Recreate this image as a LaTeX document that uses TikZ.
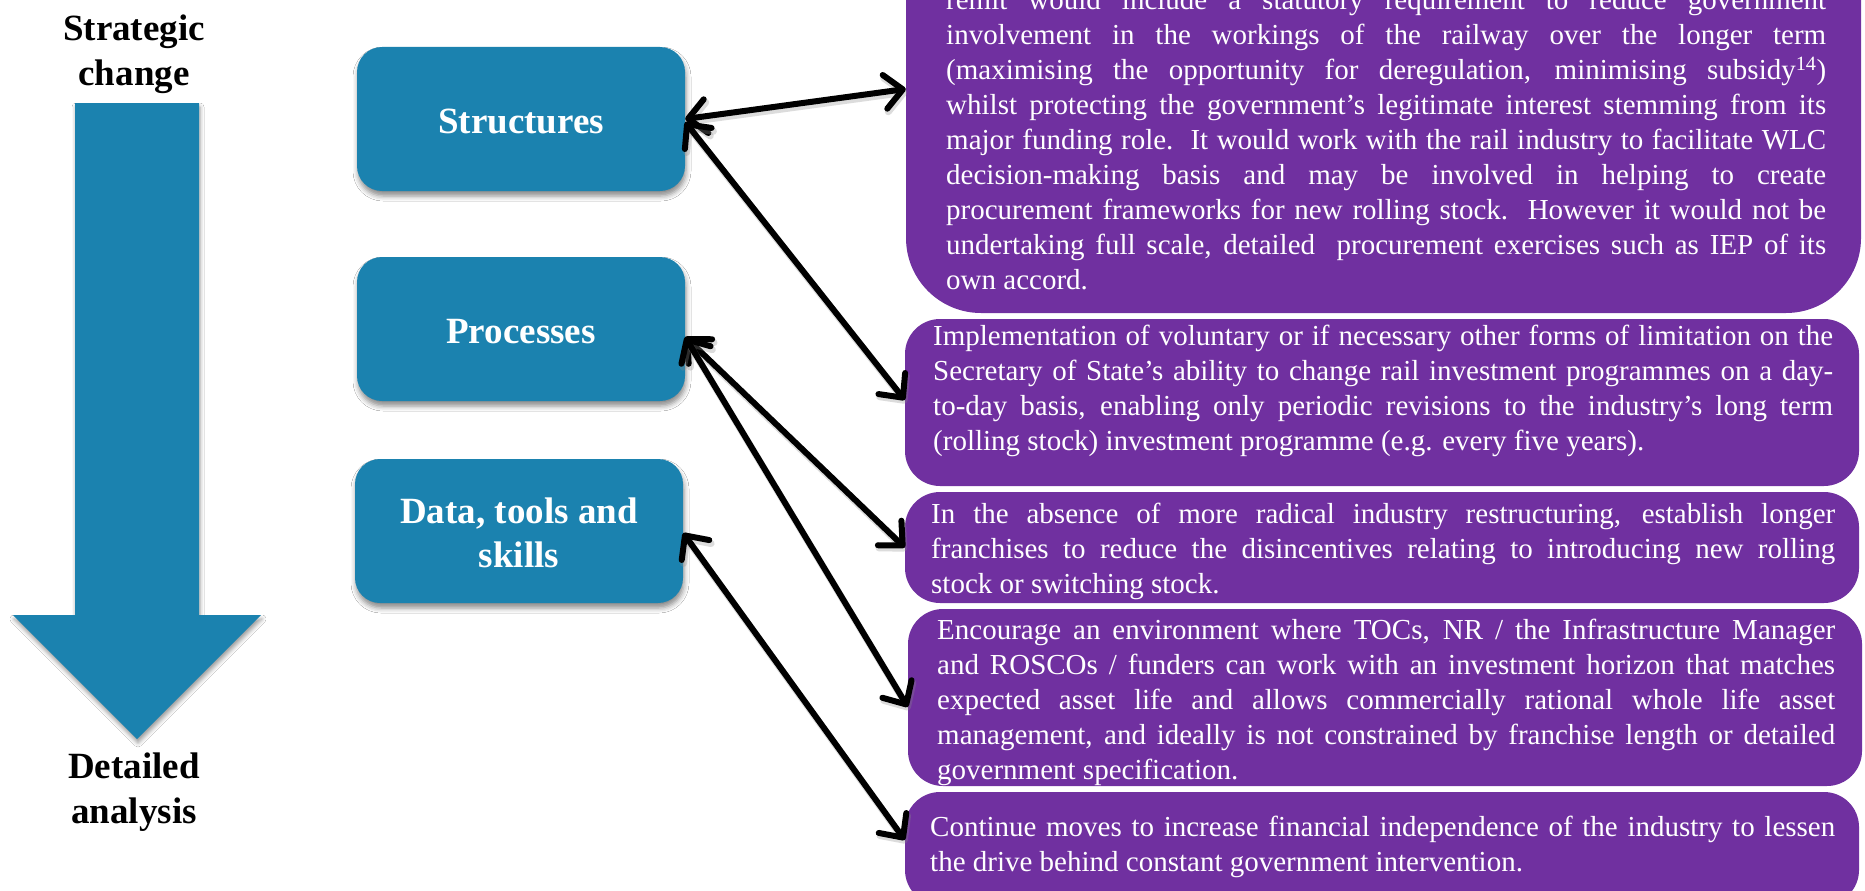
\documentclass[tikz,border=0pt]{standalone}
\usepackage{fontspec}
\setmainfont{Liberation Serif}
\usetikzlibrary{arrows.meta,shadows.blur}
\definecolor{boxblue}{RGB}{27,130,175}
\definecolor{boxpurple}{RGB}{112,48,160}
\newlength\bw
\newcommand\jline[1]{\makebox[\bw][s]{#1}}
\newcommand\lline[1]{\makebox[\bw][l]{#1}}
\newcommand\up{\rule{0pt}{30pt}}
\begin{document}
\begin{tikzpicture}[x=1pt,y=-1pt,
  bluebox/.style={fill=boxblue, rounded corners=25pt, minimum width=328pt, minimum height=144pt,
    text=white, font=\fontsize{37}{44}\selectfont\bfseries, align=center, inner sep=0pt,
    blur shadow={shadow xshift=1pt, shadow yshift=-5pt, shadow blur radius=5pt, shadow opacity=45}},
  pbox/.style={fill=boxpurple, rounded corners=#1, inner sep=0pt},
  ptext/.style={anchor=north west, inner sep=0pt, text=white, font=\fontsize{29}{35}\selectfont,
    align=left, execute at begin node={\global\bw=#1\relax}},
  lab/.style={font=\fontsize{37}{45}\selectfont\bfseries, align=center, anchor=north, inner sep=0pt},
  conn/.style={line width=6pt, line cap=round,
    arrows={Straight Barb[length=18pt,width=34pt,round]-Straight Barb[length=18pt,width=34pt,round]},
    preaction={draw=black!45, opacity=0.3, line width=7pt, transform canvas={xshift=1.5pt,yshift=-3pt}}}]
\useasboundingbox (0,0) rectangle (1865,891);
\fill[white] (0,0) rectangle (1865,891);
\clip (0,0) rectangle (1865,891);

% big arrow
\fill[boxblue, blur shadow={shadow xshift=1pt, shadow yshift=-4pt, shadow blur radius=4pt, shadow opacity=40}]
  (75,103) -- (199,103) -- (199,615) -- (261,615) -- (137,739) -- (13,615) -- (75,615) -- cycle;
\node[lab] (top) at (134,8.5) {\strut Strategic\\change};
\node[lab] (bot) at (134,746.5) {\strut Detailed\\analysis};

% blue boxes
\node[bluebox] (s) at (521,119) {\up Structures};
\node[bluebox] (pr) at (521,329) {\up Processes};
\node[bluebox] (d) at (519,531) {\up Data, tools and\\skills};

% purple boxes
\node[pbox=75pt, minimum width=955pt, minimum height=433pt] (p1) at (1383.5,96.5) {};
\node[pbox=35pt, minimum width=954pt, minimum height=167pt] (p2) at (1382,402.5) {};
\node[pbox=35pt, minimum width=954pt, minimum height=111pt] (p3) at (1382,547.5) {};
\node[pbox=35pt, minimum width=954pt, minimum height=177pt] (p4) at (1385,697.5) {};
\node[pbox=35pt, minimum width=954pt, minimum height=113pt] (p5) at (1382,848.5) {};

\node[ptext=880pt] (t1) at (946,-15) {%
\jline{\strut remit would include a statutory requirement to reduce government}\\
\jline{involvement in the workings of the railway over the longer term}\\
\jline{(maximising the opportunity for deregulation, minimising subsidy\textsuperscript{14})}\\
\jline{whilst protecting the government’s legitimate interest stemming from its}\\
\jline{major funding role.\ \ It would work with the rail industry to facilitate WLC}\\
\jline{decision-making basis and may be involved in helping to create}\\
\jline{procurement frameworks for new rolling stock.\ \ However it would not be}\\
\jline{undertaking full scale, detailed\ \ procurement exercises such as IEP of its}\\
\lline{own accord.}};

\node[ptext=900pt] (t2) at (933,320.5) {%
\jline{\strut Implementation of voluntary or if necessary other forms of limitation on the}\\
\jline{Secretary of State’s ability to change rail investment programmes on a day-}\\
\jline{to-day basis, enabling only periodic revisions to the industry’s long term}\\
\lline{(rolling stock) investment programme (e.g. every five years).}};

\node[ptext=904pt] (t3) at (931,498.5) {%
\jline{\strut In the absence of more radical industry restructuring, establish longer}\\
\jline{franchises to reduce the disincentives relating to introducing new rolling}\\
\lline{stock or switching stock.}};

\node[ptext=898pt] (t4) at (937,614.5) {%
\jline{\strut Encourage an environment where TOCs, NR / the Infrastructure Manager}\\
\jline{and ROSCOs / funders can work with an investment horizon that matches}\\
\jline{expected asset life and allows commercially rational whole life asset}\\
\jline{management, and ideally is not constrained by franchise length or detailed}\\
\lline{government specification.}};

\node[ptext=905pt] (t5) at (930,811.5) {%
\jline{\strut Continue moves to increase financial independence of the industry to lessen}\\
\lline{the drive behind constant government intervention.}};

% connectors
\draw[conn] (s.east) -- ([yshift=7.5pt]p1.west);
\draw[conn] ([yshift=-3pt]s.east) -- ([yshift=2.5pt]p2.west);
\draw[conn] ([yshift=-8pt]pr.east) -- (p3.west);
\draw[conn] ([yshift=-8pt]pr.east) -- ([yshift=-9.5pt]p4.west);
\draw[conn] ([yshift=-2pt]d.east) -- ([yshift=8.5pt]p5.west);
\end{tikzpicture}
\end{document}
